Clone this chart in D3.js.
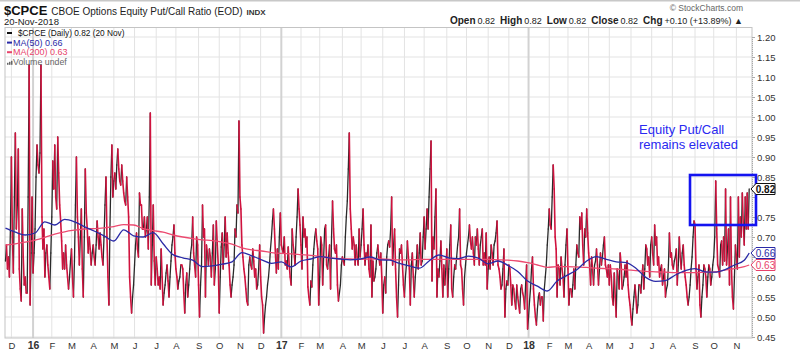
<!DOCTYPE html>
<html><head><meta charset="utf-8">
<script src="https://cdn.jsdelivr.net/npm/d3@7"></script>
<style>
body{margin:0;background:#fff}
svg{display:block}
text{font-family:"Liberation Sans",Arial,sans-serif}
</style>
</head><body>
<svg id="c" width="800" height="353"></svg>
<script>
// ---------------- DATA ----------------
const startDate = "2015-11-20";
const endDate = "2018-11-20";
const holidays = ["2015-11-26","2015-12-25",
 "2016-01-01","2016-01-18","2016-02-15","2016-03-25","2016-05-30","2016-07-04","2016-09-05","2016-11-24","2016-12-26",
 "2017-01-02","2017-01-16","2017-02-20","2017-04-14","2017-05-29","2017-07-04","2017-09-04","2017-11-23","2017-12-25",
 "2018-01-01","2018-01-15","2018-02-19","2018-03-30","2018-05-28","2018-07-04","2018-09-03"];

// $CPCE daily close, one value per trading session
const cpce = [
 0.64,0.68,0.62,0.65,0.60,0.72,0.90,0.70,0.61,0.80,
 0.96,0.72,0.78,0.92,0.62,0.57,0.54,0.77,0.65,0.58,
 0.60,0.56,0.56,0.80,1.13,0.53,0.66,0.80,0.61,0.66,
 0.72,0.85,0.93,0.88,0.86,0.91,1.13,0.75,0.67,0.72,
 0.60,0.66,0.68,0.63,0.60,0.57,0.66,0.75,0.89,0.82,
 0.93,0.80,0.77,0.95,0.86,0.78,0.74,0.69,0.62,0.66,
 0.62,0.68,0.63,0.60,0.57,0.60,0.64,0.67,0.60,0.55,
 0.64,0.78,0.90,0.75,0.70,0.63,0.70,0.77,0.62,0.55,
 0.70,0.87,0.76,0.72,0.66,0.70,0.67,0.63,0.66,0.68,
 0.65,0.63,0.68,0.74,0.70,0.67,0.71,0.68,0.65,0.63,
 0.70,0.78,0.85,0.70,0.60,0.53,0.72,0.85,0.93,0.80,
 0.84,0.86,0.82,0.88,0.92,0.87,0.84,0.83,0.88,0.84,
 0.81,0.79,0.78,0.85,0.80,0.75,0.60,0.55,0.51,0.55,
 0.58,0.63,0.68,0.71,0.67,0.65,0.81,0.78,0.78,0.72,
 0.72,0.75,0.70,0.72,0.75,0.67,0.80,1.01,0.58,0.68,
 0.78,0.64,0.58,0.65,0.62,0.58,0.60,0.57,0.67,0.60,
 0.53,0.56,0.58,0.61,0.63,0.59,0.55,0.60,0.64,0.68,
 0.70,0.73,0.66,0.62,0.60,0.57,0.59,0.60,0.63,0.63,
 0.62,0.56,0.51,0.58,0.61,0.55,0.58,0.62,0.66,0.68,
 0.75,0.66,0.63,0.60,0.70,0.68,0.58,0.50,0.58,0.63,
 0.78,0.70,0.72,0.55,0.68,0.66,0.63,0.67,0.65,0.60,
 0.66,0.73,0.58,0.62,0.74,0.68,0.63,0.51,0.60,0.675,
 0.71,0.62,0.68,0.75,0.65,0.71,0.66,0.63,0.58,0.55,
 0.58,0.60,0.63,0.72,0.70,0.78,0.76,0.99,0.80,0.77,
 0.68,0.65,0.62,0.60,0.57,0.54,0.53,0.63,0.65,0.63,
 0.62,0.67,0.64,0.60,0.62,0.57,0.58,0.62,0.68,0.60,
 0.55,0.53,0.46,0.50,0.53,0.55,0.58,0.60,0.63,0.67,
 0.70,0.74,0.77,0.72,0.66,0.61,0.67,0.62,0.70,0.76,
 0.68,0.67,0.66,0.70,0.63,0.64,0.62,0.675,0.63,0.60,
 0.58,0.72,0.68,0.66,0.63,0.70,0.75,0.82,0.77,0.73,
 0.68,0.62,0.75,0.70,0.72,0.675,0.70,0.575,0.55,0.53,
 0.59,0.575,0.63,0.67,0.70,0.72,0.69,0.67,0.53,0.60,
 0.70,0.68,0.58,0.65,0.72,0.73,0.63,0.62,0.65,0.68,
 0.57,0.70,0.79,0.72,0.67,0.66,0.68,0.58,0.54,0.56,
 0.58,0.63,0.65,0.64,0.63,0.70,0.75,0.79,0.87,0.96,
 0.77,0.72,0.67,0.70,0.68,0.63,0.68,0.65,0.63,0.72,
 0.65,0.68,0.72,0.77,0.68,0.63,0.66,0.65,0.68,0.62,
 0.60,0.73,0.55,0.64,0.59,0.60,0.62,0.66,0.68,0.65,
 0.63,0.66,0.60,0.51,0.58,0.60,0.56,0.65,0.68,0.69,
 0.675,0.72,0.80,0.63,0.68,0.72,0.62,0.55,0.50,0.58,
 0.67,0.66,0.68,0.63,0.58,0.55,0.60,0.63,0.69,0.65,
 0.62,0.53,0.63,0.66,0.60,0.55,0.60,0.63,0.68,0.62,
 0.66,0.71,0.63,0.64,0.70,0.75,0.67,0.72,0.77,0.72,
 0.80,0.87,0.94,0.59,0.70,0.67,0.75,0.82,0.55,0.62,
 0.60,0.64,0.69,0.62,0.55,0.63,0.58,0.62,0.67,0.55,
 0.62,0.68,0.73,0.57,0.55,0.60,0.63,0.62,0.65,0.68,
 0.70,0.77,0.63,0.62,0.57,0.53,0.60,0.63,0.66,0.68,
 0.70,0.73,0.69,0.67,0.70,0.66,0.63,0.70,0.68,0.72,
 0.67,0.63,0.68,0.70,0.72,0.63,0.66,0.63,0.71,0.57,
 0.62,0.65,0.62,0.68,0.66,0.63,0.68,0.69,0.71,0.74,
 0.63,0.62,0.60,0.57,0.58,0.62,0.67,0.50,0.57,0.59,
 0.58,0.63,0.62,0.58,0.53,0.58,0.57,0.54,0.52,0.58,
 0.55,0.53,0.51,0.57,0.58,0.56,0.55,0.52,0.58,0.63,
 0.47,0.50,0.54,0.57,0.62,0.65,0.57,0.53,0.50,0.48,
 0.52,0.55,0.56,0.53,0.55,0.55,0.49,0.57,0.60,0.63,
 0.68,0.72,0.77,0.73,0.72,0.80,0.88,0.82,0.70,0.67,
 0.55,0.63,0.62,0.58,0.65,0.62,0.60,0.55,0.63,0.68,
 0.72,0.62,0.53,0.57,0.57,0.55,0.58,0.62,0.57,0.63,
 0.68,0.66,0.65,0.75,0.72,0.76,0.68,0.63,0.72,0.70,
 0.77,0.71,0.66,0.63,0.58,0.65,0.62,0.58,0.63,0.64,
 0.67,0.63,0.58,0.62,0.66,0.63,0.65,0.68,0.70,0.63,
 0.62,0.60,0.63,0.58,0.63,0.60,0.55,0.53,0.61,0.55,
 0.50,0.62,0.60,0.57,0.66,0.63,0.57,0.58,0.60,0.63,
 0.60,0.64,0.58,0.55,0.53,0.50,0.48,0.52,0.55,0.58,
 0.55,0.51,0.53,0.58,0.58,0.56,0.60,0.63,0.57,0.62,
 0.68,0.67,0.63,0.65,0.60,0.68,0.70,0.66,0.63,0.73,
 0.68,0.70,0.63,0.65,0.60,0.62,0.63,0.58,0.60,0.62,
 0.55,0.57,0.58,0.63,0.71,0.65,0.66,0.63,0.62,0.64,
 0.65,0.67,0.58,0.63,0.70,0.65,0.62,0.66,0.68,0.63,
 0.60,0.58,0.55,0.53,0.55,0.58,0.62,0.65,0.70,0.74,
 0.73,0.62,0.57,0.60,0.63,0.53,0.50,0.55,0.58,0.63,
 0.62,0.60,0.55,0.60,0.63,0.62,0.58,0.60,0.63,0.65,
 0.70,0.84,0.72,0.63,0.62,0.60,0.68,0.69,0.63,0.70,
 0.64,0.82,0.63,0.67,0.72,0.58,0.80,0.62,0.55,0.52,
 0.60,0.68,0.65,0.62,0.80,0.65,0.75,0.70,0.81,0.73,
 0.68,0.80,0.72,0.81,0.72,0.82
];

// moving averages read every 10 sessions (plus the last session)
const maStep = 10;
const ma50 = [0.722,0.712,0.705,0.710,0.738,0.730,0.744,0.738,0.726,0.715,
 0.703,0.690,0.718,0.703,0.700,0.711,0.683,0.656,0.648,0.642,
 0.626,0.628,0.632,0.638,0.661,0.653,0.643,0.634,0.638,0.625,
 0.640,0.645,0.651,0.647,0.645,0.643,0.645,0.650,0.643,0.642,
 0.634,0.628,0.622,0.640,0.655,0.648,0.646,0.652,0.647,0.633,
 0.640,0.629,0.614,0.590,0.577,0.565,0.590,0.604,0.618,0.640,
 0.651,0.644,0.638,0.636,0.622,0.599,0.589,0.591,0.605,0.616,
 0.621,0.613,0.612,0.618,0.630,0.642,0.660];
const ma200 = [0.680,0.683,0.687,0.692,0.699,0.707,0.713,0.717,0.720,0.721,
 0.723,0.726,0.731,0.730,0.721,0.716,0.712,0.705,0.700,0.696,
 0.693,0.691,0.687,0.682,0.673,0.668,0.665,0.661,0.659,0.658,
 0.656,0.654,0.651,0.648,0.646,0.645,0.644,0.645,0.645,0.644,
 0.643,0.643,0.644,0.644,0.644,0.644,0.644,0.644,0.644,0.644,
 0.643,0.642,0.640,0.636,0.630,0.624,0.626,0.626,0.625,0.624,
 0.622,0.621,0.620,0.618,0.616,0.614,0.613,0.612,0.611,0.611,
 0.611,0.612,0.613,0.617,0.621,0.626,0.630];

const yTicks = [0.45,0.50,0.55,0.60,0.65,0.70,0.75,0.80,0.85,0.90,0.95,1.00,1.05,1.10,1.15,1.20];
const monthLetters = ["J","F","M","A","M","J","J","A","S","O","N","D"];
const lastClose = 0.82, lastMa50 = 0.66, lastMa200 = 0.63;
const boxRange = [0.73, 0.855]; // annotation box value range

// ---------------- BUILD ----------------
const parse = d3.utcParse("%Y-%m-%d"), fmt = d3.utcFormat("%Y-%m-%d");
const hol = new Set(holidays);
const days = d3.utcDays(parse(startDate), d3.utcDay.offset(parse(endDate), 1))
  .filter(d => d.getUTCDay() % 6 !== 0 && !hol.has(fmt(d)));
const N = cpce.length;
const data = cpce.map((v, i) => ({i, v, d: days[Math.min(i, days.length-1)]}));

const svg = d3.select("#c");
const L = 5, R = 752, T = 27.5, B = 338;
const x = d3.scaleLinear().domain([0, N-1]).range([5.5, 749.2]);
const y = d3.scaleLinear().domain([0.45, 1.20]).range([337, 37]);

svg.append("rect").attr("x",0).attr("y",0).attr("width",800).attr("height",1.5).attr("fill","#c8c8c8");

// month starts
const monthIdx = [];
for (let i = 1; i < data.length; i++) {
  if (data[i].d.getUTCMonth() !== data[i-1].d.getUTCMonth()) monthIdx.push(i);
}

// grid
const grid = svg.append("g");
grid.selectAll(".hg").data(yTicks).join("line")
  .attr("x1", L).attr("x2", R).attr("y1", d => y(d)).attr("y2", d => y(d))
  .attr("stroke", "#e3e3e3").attr("stroke-width", 1);
grid.selectAll(".vg").data(monthIdx).join("line")
  .attr("x1", i => x(i)).attr("x2", i => x(i)).attr("y1", T).attr("y2", B)
  .attr("stroke", i => data[i].d.getUTCMonth() === 0 ? "#d2d2d2" : "#e3e3e3")
  .attr("stroke-width", i => data[i].d.getUTCMonth() === 0 ? 2 : 1);

// frame
svg.append("rect").attr("x", L).attr("y", T).attr("width", R - L).attr("height", B - T)
  .attr("fill", "none").attr("stroke", "#c4c4c4").attr("stroke-width", 1);

// price line: rising legs black, falling legs red
const line = d3.line().x(d => x(d.i)).y(d => y(d.v));
const legs = [];
for (let i = 1; i < data.length; i++) legs.push({up: data[i].v > data[i-1].v, pts: [data[i-1], data[i]]});
const pg = svg.append("g").attr("fill", "none").attr("stroke-linecap", "round");
pg.selectAll(".u").data(legs.filter(l => l.up)).join("path")
  .attr("d", l => line(l.pts)).attr("stroke", "#2a2a2a").attr("stroke-width", 1.3);
pg.selectAll(".dn").data(legs.filter(l => !l.up)).join("path")
  .attr("d", l => line(l.pts)).attr("stroke", "#d0123e").attr("stroke-width", 1.6);

// moving averages
const maIdx = ma50.map((_, k) => Math.min(k * maStep, N - 1));
const maLine = d3.line().x(d => x(d.i)).y(d => y(d.v)).curve(d3.curveMonotoneX);
svg.append("path").datum(ma200.map((v, k) => ({i: maIdx[k], v})))
  .attr("d", maLine).attr("fill", "none").attr("stroke", "#ec4a70").attr("stroke-width", 1.3);
svg.append("path").datum(ma50.map((v, k) => ({i: maIdx[k], v})))
  .attr("d", maLine).attr("fill", "none").attr("stroke", "#2a2aa6").attr("stroke-width", 1.3);

// x axis
const xAxis = d3.axisBottom(x).tickValues(monthIdx).tickSize(0).tickPadding(4)
  .tickFormat(i => { const d = data[i].d; return d.getUTCMonth() === 0 ? String(d.getUTCFullYear()).slice(2) : monthLetters[d.getUTCMonth()]; });
const gx = svg.append("g").attr("transform", `translate(0,${B})`).call(xAxis);
gx.select(".domain").remove();
gx.selectAll("text").attr("fill", "#333")
  .attr("font-family", "Liberation Sans, Arial, sans-serif")
  .attr("font-weight", i => data[i].d.getUTCMonth() === 0 ? "bold" : "normal")
  .attr("font-size", i => data[i].d.getUTCMonth() === 0 ? 10.5 : 9.5);

// y axis (labels hidden behind the end-value tags, as in the original)
const markVals = [lastClose, lastMa50, lastMa200];
const yAxis = d3.axisRight(y).tickValues(yTicks).tickSize(3).tickPadding(2).tickFormat(d3.format(".2f"));
const gy = svg.append("g").attr("transform", `translate(${R},0)`).call(yAxis);
gy.select(".domain").attr("stroke", "#aaa").attr("stroke-dasharray", "1,1");
gy.selectAll(".tick line").attr("stroke", "#aaa");
gy.selectAll("text").attr("font-size", 9.5).attr("fill", "#333").attr("font-family", "Liberation Sans, Arial, sans-serif")
  .attr("display", d => markVals.some(m => Math.abs(y(m) - y(d)) < 9.5) ? "none" : null);

// annotation
svg.append("rect").attr("x", 690).attr("y", y(boxRange[1])).attr("width", 66)
  .attr("height", y(boxRange[0]) - y(boxRange[1]))
  .attr("fill", "none").attr("stroke", "#1414f0").attr("stroke-width", 2.6);
svg.append("text").attr("x", 639).attr("y", 134).attr("font-size", 13).attr("fill", "#2a2af0").text("Equity Put/Call");
svg.append("text").attr("x", 639).attr("y", 148.5).attr("font-size", 13).attr("fill", "#2a2af0").text("remains elevated");

// end value markers
function marker(v, col, bold) {
  const yy = y(v);
  const g = svg.append("g");
  g.append("path").attr("d", `M751,${yy} L756,${yy-5.5} L775,${yy-5.5} L775,${yy+5.5} L756,${yy+5.5} Z`)
    .attr("fill", "#fff").attr("stroke", col).attr("stroke-width", 1);
  g.append("text").attr("x", 765.5).attr("y", yy + 3.5).attr("text-anchor", "middle")
    .attr("font-size", 10).attr("font-weight", bold ? "bold" : "normal").attr("fill", col).text(v.toFixed(2));
}
marker(lastMa200, "#e8436b", false);
marker(lastMa50, "#2a2aa6", false);
marker(lastClose, "#111", true);

// header
const hdr = svg.append("text").attr("x", 4).attr("y", 14.5);
hdr.append("tspan").attr("font-size", 13).attr("font-weight", "bold").attr("fill", "#111").text("$CPCE");
hdr.append("tspan").attr("dx", 4).attr("font-size", 10).attr("fill", "#222").text("CBOE Options Equity Put/Call Ratio (EOD)");
hdr.append("tspan").attr("dx", 4).attr("font-size", 8).attr("font-weight", "bold").attr("fill", "#333").text("INDX");
svg.append("text").attr("x", 4).attr("y", 25).attr("font-size", 9.5).attr("fill", "#222").text("20-Nov-2018");
svg.append("text").attr("x", 743).attr("y", 11).attr("text-anchor", "end").attr("font-size", 8.5).attr("fill", "#666").text("© StockCharts.com");
const ohlc = svg.append("text").attr("x", 743).attr("y", 24).attr("text-anchor", "end").attr("font-size", 9).attr("fill", "#222");
[["Open","0.82"],["High","0.82"],["Low","0.82"],["Close","0.82"],["Chg","+0.10 (+13.89%) ▲"]].forEach(([k,v],j) => {
  ohlc.append("tspan").attr("dx", j ? 5 : 0).attr("font-weight", "bold").attr("font-size", 10).text(k);
  ohlc.append("tspan").attr("dx", 2).text(v);
});

// legend
const leg = [
  {t: "$CPCE (Daily) 0.82 (20 Nov)", c: "#111", f: "DejaVu Sans, Verdana, sans-serif", s: 8.3},
  {t: "MA(50) 0.66", c: "#2a2aa6", f: "Liberation Sans, Arial, sans-serif", s: 9},
  {t: "MA(200) 0.63", c: "#e8436b", f: "Liberation Sans, Arial, sans-serif", s: 9}
];
leg.forEach((l, k) => {
  const yy = 36 + k * 9.6;
  svg.append("line").attr("x1", 7).attr("x2", 12).attr("y1", yy - 3).attr("y2", yy - 3).attr("stroke", l.c).attr("stroke-width", 2);
  svg.append("text").attr("x", k ? 13 : 18).attr("y", yy).attr("font-size", l.s).attr("font-family", l.f).attr("fill", l.c).text(l.t);
});
// volume legend
const vy = 64.8;
[[7,2],[9,3],[11,4]].forEach(([bx,h]) => svg.append("rect").attr("x", bx).attr("y", vy - h).attr("width", 1.5).attr("height", h).attr("fill", "#666"));
svg.append("text").attr("x", 13).attr("y", vy).attr("font-size", 8.8).attr("fill", "#666").text("Volume undef");
</script>
</body></html>
